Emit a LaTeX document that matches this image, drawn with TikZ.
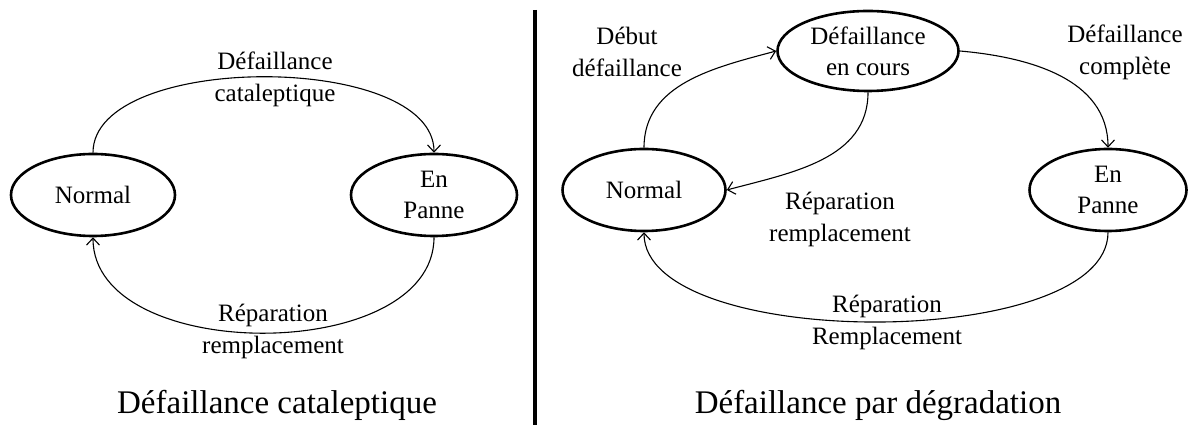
\documentclass[tikz,border=0pt]{standalone}
\usepackage{fontspec}
\setmainfont{Liberation Serif}
\usetikzlibrary{shapes.geometric,arrows.meta}
\tikzset{
  state/.style={draw, ellipse, line width=2.6pt, inner sep=0pt, align=center,
    font=\fontsize{25}{31}\selectfont},
  lbl/.style={align=center, font=\fontsize{25}{32}\selectfont, inner sep=0pt},
  ttl/.style={font=\fontsize{33}{40}\selectfont, inner sep=0pt},
  conn/.style={line width=1.1pt, -{Straight Barb[length=7pt,width=13pt,line width=1.1pt]}},
}
\begin{document}
\begin{tikzpicture}[x=1pt,y=1pt]
\useasboundingbox (0,0) rectangle (1190,425);
% left panel
\node[state, minimum width=164pt, minimum height=82pt] (n1) at (93,230) {Normal};
\node[state, minimum width=166pt, minimum height=82pt] (p1) at (434,230) {En\\Panne};
\node[lbl] (l1) at (275,346) {Défaillance\\cataleptique};
\node[lbl] (l2) at (273,94) {Réparation\\remplacement};
\node[ttl] (t1) at (277,20) {Défaillance cataleptique};
\draw[conn] (n1.north) to[out=90,in=90,looseness=0.76] (p1.north);
\draw[conn] (p1.south) to[out=-90,in=-90,looseness=0.96] (n1.south);
% separator
\coordinate (s1) at (535,415);
\coordinate (s2) at (535,0);
\draw[line width=4pt] (s1) -- (s2);
% right panel
\node[state, minimum width=163pt, minimum height=82pt] (n2) at (644,235) {Normal};
\node[state, minimum width=181pt, minimum height=80pt] (d) at (868,374) {Défaillance\\en cours};
\node[state, minimum width=157pt, minimum height=82pt] (p2) at (1108,235) {En\\Panne};
\node[lbl] (l3) at (627,373) {Début\\défaillance};
\node[lbl] (l4) at (1125,373) {Défaillance\\complète};
\node[lbl] (l5) at (840,206) {Réparation\\remplacement};
\node[lbl] (l6) at (887,103) {Réparation\\Remplacement};
\node[ttl] (t2) at (878,20) {Défaillance par dégradation};
\draw[conn] (n2.north) to[out=90,in=195] (d.west);
\draw[conn] (d.south) to[out=-90,in=15] (n2.east);
\draw[conn] (d.east) to[out=-5,in=90] (p2.north);
\draw[conn] (p2.south) to[out=-90,in=-90,looseness=0.66] (n2.south);
\end{tikzpicture}
\end{document}
